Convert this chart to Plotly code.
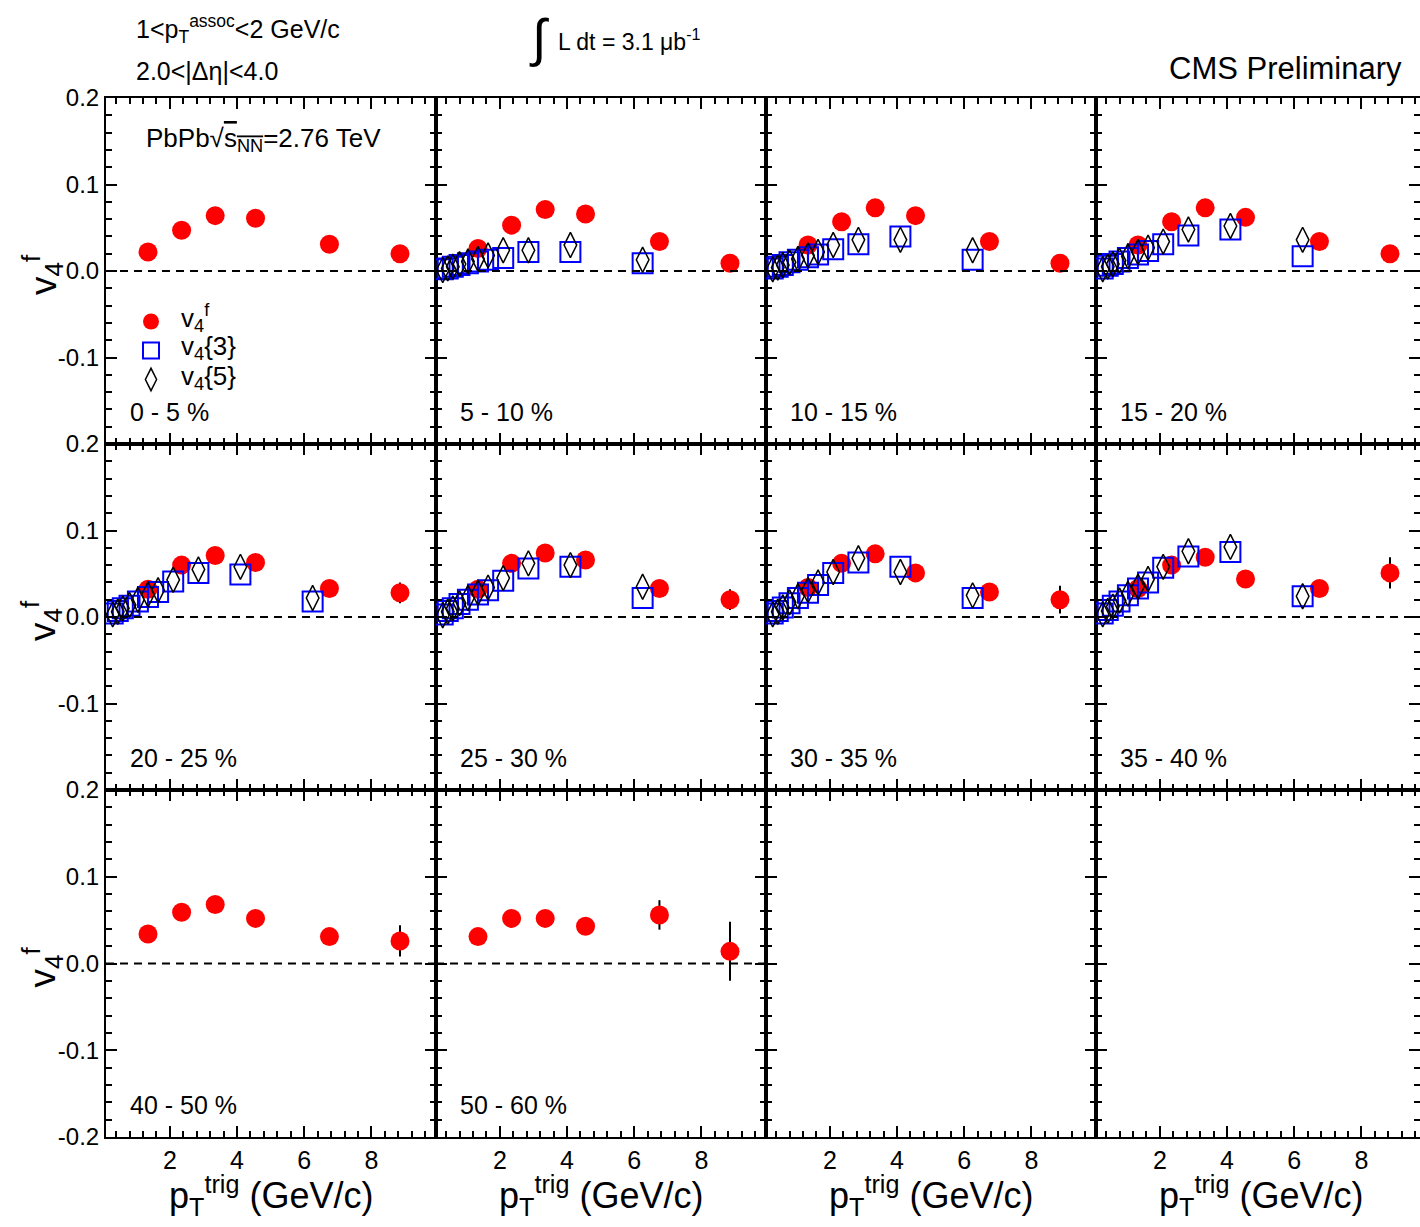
import plotly.graph_objects as go

# ---- data -------------------------------------------------------------
centralities = ["0 - 5 %", "5 - 10 %", "10 - 15 %", "15 - 20 %",
                "20 - 25 %", "25 - 30 %", "30 - 35 %", "35 - 40 %",
                "40 - 50 %", "50 - 60 %"]

# v4^f from the long-range correlation fit (trigger pT bins)
pt_fit = [1.35, 2.35, 3.35, 4.55, 6.75, 8.85]
v4f = [
    [0.022, 0.047, 0.064, 0.061, 0.031, 0.020],
    [0.026, 0.053, 0.071, 0.066, 0.034, 0.009],
    [0.030, 0.057, 0.073, 0.064, 0.034, 0.009],
    [0.030, 0.057, 0.073, 0.062, 0.034, 0.020],
    [0.032, 0.060, 0.071, 0.063, 0.033, 0.028],
    [0.032, 0.062, 0.074, 0.066, 0.033, 0.020],
    [0.034, 0.062, 0.073, 0.051, 0.029, 0.020],
    [0.033, 0.060, 0.069, 0.044, 0.033, 0.051],
    [0.034, 0.059, 0.068, 0.052, 0.031, 0.026],
    [0.031, 0.052, 0.052, 0.043, 0.056, 0.014],
]
v4f_err = [
    [0.001, 0.001, 0.002, 0.002, 0.003, 0.005],
    [0.001, 0.001, 0.002, 0.002, 0.003, 0.006],
    [0.001, 0.001, 0.002, 0.002, 0.003, 0.006],
    [0.001, 0.001, 0.002, 0.002, 0.003, 0.007],
    [0.001, 0.001, 0.002, 0.002, 0.004, 0.012],
    [0.001, 0.001, 0.002, 0.002, 0.004, 0.012],
    [0.001, 0.002, 0.002, 0.003, 0.004, 0.016],
    [0.002, 0.002, 0.003, 0.003, 0.005, 0.018],
    [0.002, 0.002, 0.003, 0.004, 0.006, 0.018],
    [0.002, 0.003, 0.004, 0.006, 0.017, 0.034],
]

# v4{3} and v4{5} (available for 5-40 % only)
pt_cum = [0.3, 0.45, 0.6, 0.8, 1.05, 1.35, 1.65, 2.1, 2.85, 4.1, 6.25]
v4_3 = {
    1: [0.002, 0.003, 0.005, 0.007, 0.009, 0.011, 0.013, 0.015, 0.022, 0.022, 0.009],
    2: [0.003, 0.005, 0.007, 0.010, 0.013, 0.016, 0.019, 0.025, 0.031, 0.040, 0.013],
    3: [0.003, 0.006, 0.008, 0.011, 0.015, 0.019, 0.023, 0.031, 0.041, 0.048, 0.017],
    4: [0.004, 0.007, 0.010, 0.013, 0.018, 0.023, 0.029, 0.041, 0.051, 0.049, 0.018],
    5: [0.003, 0.007, 0.010, 0.015, 0.020, 0.026, 0.031, 0.042, 0.056, 0.058, 0.022],
    6: [0.004, 0.007, 0.011, 0.016, 0.022, 0.028, 0.037, 0.051, 0.063, 0.058, 0.022],
    7: [0.004, 0.008, 0.013, 0.018, 0.025, 0.033, 0.040, 0.057, 0.070, 0.075, 0.024],
}
v4_5 = {
    1: [0.001, 0.003, 0.005, 0.008, 0.011, 0.014, 0.018, 0.024, 0.024, 0.030, 0.013],
    2: [0.002, 0.004, 0.007, 0.010, 0.014, 0.018, 0.022, 0.030, 0.036, 0.036, 0.024],
    3: [0.002, 0.005, 0.008, 0.012, 0.017, 0.022, 0.027, 0.034, 0.048, 0.052, 0.036],
    4: [0.003, 0.006, 0.010, 0.014, 0.020, 0.026, 0.031, 0.043, 0.055, 0.058, 0.022],
    5: [0.002, 0.006, 0.010, 0.016, 0.022, 0.028, 0.034, 0.045, 0.062, 0.060, 0.035],
    6: [0.003, 0.006, 0.011, 0.017, 0.024, 0.031, 0.040, 0.052, 0.068, 0.052, 0.025],
    7: [0.003, 0.007, 0.012, 0.019, 0.027, 0.035, 0.044, 0.058, 0.076, 0.081, 0.024],
}

series_labels = ["v<sub>4</sub><sup>f</sup>", "v<sub>4</sub>{3}", "v<sub>4</sub>{5}"]

y_ticks_upper = [-0.1, 0.0, 0.1, 0.2]
y_ticks_lower = [-0.2, -0.1, 0.0, 0.1, 0.2]
x_ticks = [2, 4, 6, 8]

# ---- styles -----------------------------------------------------------
MARK_F = dict(symbol="circle", size=19, color="#ff0000", line=dict(width=0))
MARK_3 = dict(symbol="square-open", size=20, color="#0000ff",
              line=dict(width=2, color="#0000ff"))
MARK_5 = dict(symbol="diamond-tall-open", size=18, color="black",
              line=dict(width=1.5, color="black"))

# ---- geometry (pixels) ------------------------------------------------
W, H = 1420, 1227
col_left = [106, 436, 766, 1096]
col_width = [330, 330, 330, 324]
row_top = [98, 444, 790]
row_h = [346, 346, 347]
px_per_unit = 33.6
x_start = 0.1
FONT = "Liberation Sans, Arial, Helvetica, sans-serif"


def fx(px):
    return px / W


def fy(py):
    return 1 - py / H


fig = go.Figure()
layout = dict(width=W, height=H, margin=dict(l=0, r=0, t=0, b=0, pad=0),
              template="none", autosize=False,
              plot_bgcolor="white", paper_bgcolor="white",
              font=dict(family=FONT, color="black"),
              showlegend=True)
shapes, annotations = [], []

for p in range(12):
    r, c = divmod(p, 4)
    xid = "x" if p == 0 else f"x{p + 1}"
    yid = "y" if p == 0 else f"y{p + 1}"
    xkey = "xaxis" if p == 0 else f"xaxis{p + 1}"
    ykey = "yaxis" if p == 0 else f"yaxis{p + 1}"
    x0 = col_left[c]
    w = col_width[c]
    y_top = row_top[r]
    y_bot = row_top[r] + row_h[r]

    layout[xkey] = dict(
        domain=[fx(x0), fx(x0 + w)], anchor=yid, automargin=False,
        range=[x_start, x_start + w / px_per_unit],
        showline=True, linecolor="black", linewidth=2, mirror="allticks",
        ticks="inside", ticklen=11, tickwidth=2, tickcolor="black",
        tickmode="array", tickvals=x_ticks, ticktext=[str(v) for v in x_ticks],
        showticklabels=(r == 2), tickfont=dict(size=25, family=FONT),
        showgrid=False, zeroline=False,
        minor=dict(ticks="inside", dtick=0.4, tick0=0, ticklen=6,
                   tickwidth=1.5, tickcolor="black", showgrid=False),
    )
    yt = y_ticks_lower if r == 2 else y_ticks_upper
    layout[ykey] = dict(
        domain=[fy(y_bot), fy(y_top)], anchor=xid, automargin=False,
        range=[-0.2, 0.2],
        showline=True, linecolor="black", linewidth=2, mirror="allticks",
        ticks="inside", ticklen=11, tickwidth=2, tickcolor="black",
        tickmode="array", tickvals=yt, ticktext=[f"{v:.1f}" for v in yt],
        showticklabels=(c == 0), tickfont=dict(size=24, family=FONT),
        showgrid=False, zeroline=False,
        minor=dict(ticks="inside", dtick=0.02, tick0=0, ticklen=6,
                   tickwidth=1.5, tickcolor="black", showgrid=False),
    )

    if p < len(centralities):
        # dashed zero reference line
        shapes.append(dict(type="line", xref=f"{xid} domain", yref=yid,
                           x0=0, x1=1, y0=0, y1=0,
                           line=dict(color="black", width=2, dash="8px,6px")))
        annotations.append(dict(text=centralities[p], x=fx(x0 + 22),
                                y=fy(y_bot - 32), xanchor="left",
                                yanchor="middle", font=dict(size=25, family=FONT)))
        fig.add_trace(go.Scatter(
            x=pt_fit, y=v4f[p], xaxis=xid, yaxis=yid, mode="markers",
            name=series_labels[0], showlegend=False, marker=MARK_F,
            error_y=dict(type="data", array=v4f_err[p], color="black",
                         thickness=2, width=0),
        ))
        if p in v4_3:
            fig.add_trace(go.Scatter(
                x=pt_cum, y=v4_3[p], xaxis=xid, yaxis=yid, mode="markers",
                name=series_labels[1], showlegend=False, marker=MARK_3,
            ))
            fig.add_trace(go.Scatter(
                x=pt_cum, y=v4_5[p], xaxis=xid, yaxis=yid, mode="markers",
                name=series_labels[2], showlegend=False, marker=MARK_5,
            ))
    else:
        # empty panel: a placeholder trace keeps the frame and axes drawn
        fig.add_trace(go.Scatter(x=[None], y=[None], xaxis=xid, yaxis=yid,
                                 mode="markers", showlegend=False,
                                 hoverinfo="skip"))

    # axis titles
    if c == 0:
        annotations.append(dict(text="v<sub>4</sub><sup>f</sup>", x=fx(42),
                                y=fy((y_top + y_bot) / 2 + 4), textangle=-90,
                                xanchor="center", yanchor="middle",
                                font=dict(size=37, family=FONT)))
    if r == 2:
        annotations.append(dict(text="p<sub>T</sub><sup>trig</sup> (GeV/c)",
                                x=fx(x0 + 165), y=fy(1195),
                                xanchor="center", yanchor="middle",
                                font=dict(size=36, family=FONT)))

# legend keys: symbol-only entries, their labels are set as annotations
for mk in (MARK_F, MARK_3, MARK_5):
    fig.add_trace(go.Scatter(x=[None], y=[None], mode="markers", marker=mk,
                             name=" ", showlegend=True, hoverinfo="skip"))
for lab, ly in zip(series_labels, [318, 347, 377]):
    annotations.append(dict(text=lab, x=fx(179), y=fy(ly), xanchor="left",
                            yanchor="middle", font=dict(size=26, family=FONT)))

# header texts
annotations += [
    dict(text="1&lt;p<sub>T</sub><sup>assoc</sup>&lt;2 GeV/c", x=fx(134), y=fy(29),
         xanchor="left", yanchor="middle", font=dict(size=25, family=FONT)),
    dict(text="2.0&lt;|Δη|&lt;4.0", x=fx(134), y=fy(71),
         xanchor="left", yanchor="middle", font=dict(size=25, family=FONT)),
    dict(text="∫", x=fx(539), y=fy(38), xanchor="center", yanchor="middle",
         font=dict(size=52, family=FONT)),
    dict(text="L dt = 3.1 μb<sup>-1</sup>", x=fx(556), y=fy(40),
         xanchor="left", yanchor="middle", font=dict(size=23, family=FONT)),
    dict(text="CMS Preliminary", x=fx(1404), y=fy(69),
         xanchor="right", yanchor="middle", font=dict(size=31, family=FONT)),
    dict(text="PbPb√<span style='text-decoration:overline'>s<sub>NN</sub></span>=2.76 TeV",
         x=fx(144), y=fy(140), xanchor="left", yanchor="middle",
         font=dict(size=26, family=FONT)),
]
for a in annotations:
    a.setdefault("xref", "paper")
    a.setdefault("yref", "paper")
    a.setdefault("showarrow", False)

layout["shapes"] = shapes
layout["annotations"] = annotations
layout["legend"] = dict(x=fx(122), y=fy(302), xanchor="left", yanchor="top",
                        bgcolor="rgba(0,0,0,0)", borderwidth=0,
                        font=dict(size=20, family=FONT),
                        tracegroupgap=0, itemwidth=48)
fig.update_layout(**layout)
fig.write_html("out.html")
